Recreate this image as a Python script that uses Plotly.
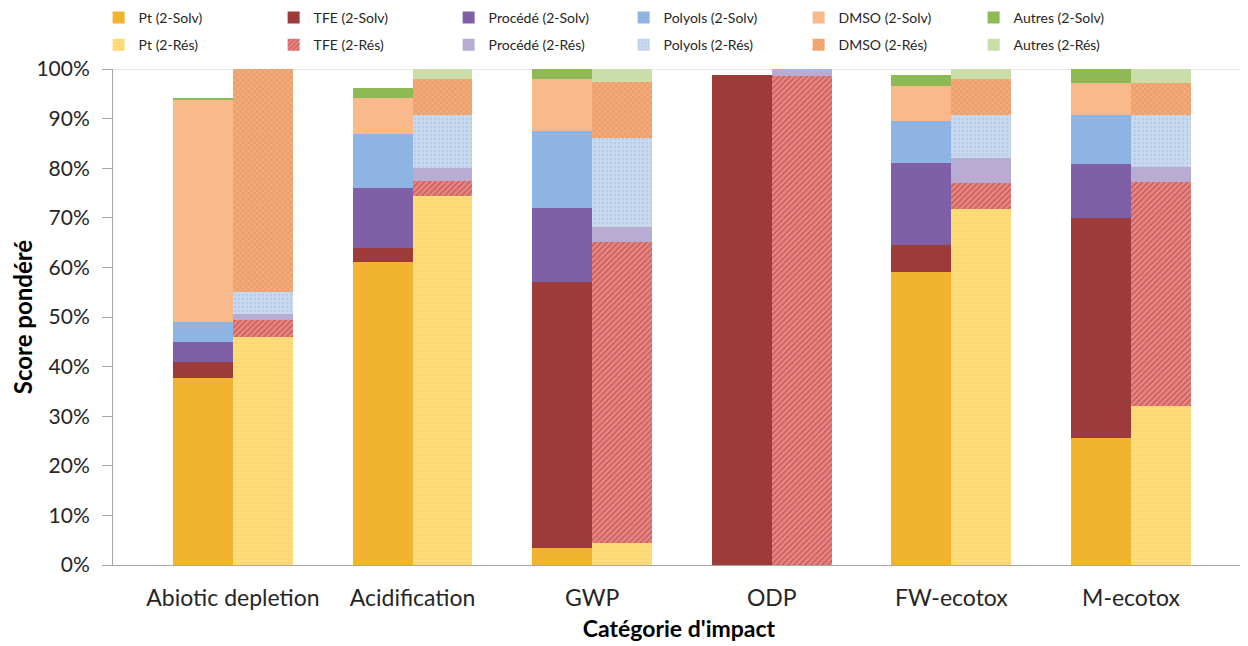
import plotly.graph_objects as go

categories = ["Abiotic depletion", "Acidification", "GWP", "ODP", "FW-ecotox", "M-ecotox"]
components = ["Pt", "TFE", "Procédé", "Polyols", "DMSO", "Autres"]

# shares (fraction of 1) per component, per category
solv_pt      = [0.378, 0.610, 0.034, 0.000, 0.590, 0.256]
solv_tfe     = [0.031, 0.030, 0.537, 0.988, 0.055, 0.443]
solv_procede = [0.041, 0.121, 0.148, 0.000, 0.165, 0.109]
solv_polyols = [0.040, 0.108, 0.157, 0.000, 0.086, 0.099]
solv_dmso    = [0.448, 0.072, 0.103, 0.000, 0.070, 0.064]
solv_autres  = [0.004, 0.020, 0.021, 0.000, 0.022, 0.029]

res_pt      = [0.460, 0.743, 0.044, 0.000, 0.718, 0.321]
res_tfe     = [0.034, 0.031, 0.608, 0.985, 0.052, 0.452]
res_procede = [0.013, 0.026, 0.030, 0.013, 0.050, 0.030]
res_polyols = [0.044, 0.107, 0.178, 0.001, 0.087, 0.104]
res_dmso    = [0.449, 0.072, 0.114, 0.001, 0.072, 0.065]
res_autres  = [0.000, 0.021, 0.026, 0.000, 0.021, 0.028]

solv_series = [solv_pt, solv_tfe, solv_procede, solv_polyols, solv_dmso, solv_autres]
res_series = [res_pt, res_tfe, res_procede, res_polyols, res_dmso, res_autres]

solv_colors = ["#F2B331", "#9C3B3A", "#7F60A6", "#8DB4E2", "#F9B98A", "#8DBA55"]
res_bg = ["#FFDD7A", "#EC8482", "#B8ACD2", "#C9D9EE", "#F4AB78", "#C9DEA9"]
res_fg = ["#F3CD62", "#7E2F2F", "#A99CC6", "#A8BEDD", "#C9784A", "#B8D094"]
res_shape = ["-", "/", "", ".", "x", ""]

BAR_W = 1 / 3
FONT = "Lato"

fig = go.Figure()
x_solv = [i - BAR_W / 2 for i in range(len(categories))]
x_res = [i + BAR_W / 2 for i in range(len(categories))]

for name, vals, col in zip(components, solv_series, solv_colors):
    fig.add_trace(go.Bar(
        x=x_solv, y=vals, width=BAR_W, name=f"{name} (2-Solv)",
        marker=dict(color=col, line=dict(width=0)), legend="legend",
    ))
for name, vals, bg, fg, shp in zip(components, res_series, res_bg, res_fg, res_shape):
    fig.add_trace(go.Bar(
        x=x_res, y=vals, width=BAR_W, name=f"{name} (2-Rés)",
        marker=dict(color=bg, line=dict(width=0),
                    pattern=dict(shape=shp, bgcolor=bg, fgcolor=fg, size=4, solidity=0.3)),
        legend="legend2",
    ))

legend_common = dict(
    orientation="h", xref="paper", yref="paper", xanchor="left", yanchor="middle",
    entrywidth=130, entrywidthmode="pixels", font=dict(family=FONT, size=14, color="#262626"),
    bgcolor="rgba(0,0,0,0)", itemwidth=30, traceorder="normal",
)

fig.update_layout(
    width=1240, height=638,
    paper_bgcolor="white", plot_bgcolor="white",
    margin=dict(l=105, r=3, t=61, b=81, autoexpand=False),
    barmode="stack",
    legend=dict(x=-0.0127, y=1.103, **legend_common),
    legend2=dict(x=-0.0127, y=1.048, **legend_common),
    xaxis=dict(
        range=[-0.668, 5.635], tickmode="array", tickvals=list(range(len(categories))),
        ticktext=categories, ticks="", showline=True, linecolor="#A6A6A6", linewidth=1,
        showgrid=False, zeroline=False, ticklabelstandoff=12,
        tickfont=dict(family=FONT, size=23, color="#262626"),
        title=dict(text="<b>Catégorie d'impact</b>", font=dict(family=FONT, size=23, color="#000000"), standoff=11),
    ),
    yaxis=dict(
        range=[0, 1], tickformat=".0%", dtick=0.1, ticks="outside", ticklen=10,
        tickcolor="#A6A6A6", showline=True, linecolor="#A6A6A6", linewidth=1,
        showgrid=False, zeroline=False, ticklabelstandoff=8,
        tickfont=dict(family=FONT, size=21, color="#262626"),
        title=dict(text="<b>Score pondéré</b>", font=dict(family=FONT, size=24, color="#000000"), standoff=0),
    ),
    shapes=[dict(type="line", xref="paper", x0=0, x1=1, yref="y", y0=1, y1=1,
                 line=dict(color="#D0D0D0", width=1), layer="below")],
)

fig.write_html("out.html")
